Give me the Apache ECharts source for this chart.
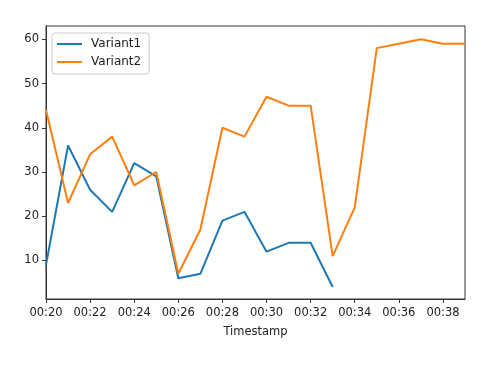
<!DOCTYPE html>
<html><head><meta charset="utf-8">
<script src="https://cdn.jsdelivr.net/npm/echarts@6/dist/echarts.min.js"></script>
<style>html,body{margin:0;padding:0;background:#fff}#c{width:500px;height:369px}</style>
</head><body><div id="c"></div>
<script>
const categories = ['00:20','00:21','00:22','00:23','00:24','00:25','00:26','00:27','00:28','00:29','00:30','00:31','00:32','00:33','00:34','00:35','00:36','00:37','00:38','00:39'];
const variant1 = [9, 36, 26, 21, 32, 29, 6, 7, 19, 21, 12, 14, 14, 4, null, null, null, null, null, null];
const variant2 = [44, 23, 34, 38, 27, 30, 7, 17, 40, 38, 47, 45, 45, 11, 22, 58, 59, 60, 59, 59];
const yTicks = [10, 20, 30, 40, 50, 60];

const font = 'DejaVu Sans';
const chart = echarts.init(document.getElementById('c'), null, {renderer: 'canvas'});
chart.setOption({
  animation: false,
  backgroundColor: '#fff',
  grid: {left: 46, right: 35, top: 26, bottom: 70, show: true, borderColor: '#333', borderWidth: 1, backgroundColor: 'transparent'},
  legend: {
    orient: 'vertical', left: 52, top: 33,
    data: ['Variant1', 'Variant2'],
    icon: 'rect', itemWidth: 25, itemHeight: 2, itemGap: 6,
    borderColor: '#ccc', borderWidth: 1, borderRadius: 3,
    padding: [5, 8, 6, 5],
    textStyle: {fontFamily: font, fontSize: 12, color: '#222', padding: [0, 0, 0, 4]}
  },
  xAxis: {
    type: 'category', data: categories, boundaryGap: false,
    name: 'Timestamp', nameLocation: 'middle', nameGap: 27,
    nameTextStyle: {fontFamily: font, fontSize: 11.5, color: '#222'},
    axisLine: {show: true, lineStyle: {color: '#333', width: 1}},
    axisTick: {show: true, length: 4, interval: 1, lineStyle: {color: '#333'}},
    axisLabel: {interval: 1, margin: 8, fontFamily: font, fontSize: 11.5, color: '#222', hideOverlap: false},
    splitLine: {show: false}
  },
  yAxis: {
    type: 'value', min: 1.3, max: 63,
    axisLine: {show: true, lineStyle: {color: '#333', width: 1}},
    axisTick: {show: true, length: 4, customValues: yTicks, lineStyle: {color: '#333'}},
    axisLabel: {customValues: yTicks, margin: 7, fontFamily: font, fontSize: 11.5, color: '#222'},
    splitLine: {show: false}
  },
  series: [
    {name: 'Variant1', type: 'line', data: variant1, showSymbol: false, symbol: 'none', connectNulls: false,
     lineStyle: {color: '#1f77b4', width: 2}, itemStyle: {color: '#1f77b4'}},
    {name: 'Variant2', type: 'line', data: variant2, showSymbol: false, symbol: 'none',
     lineStyle: {color: '#ff7f0e', width: 2}, itemStyle: {color: '#ff7f0e'}}
  ]
});
</script></body></html>
